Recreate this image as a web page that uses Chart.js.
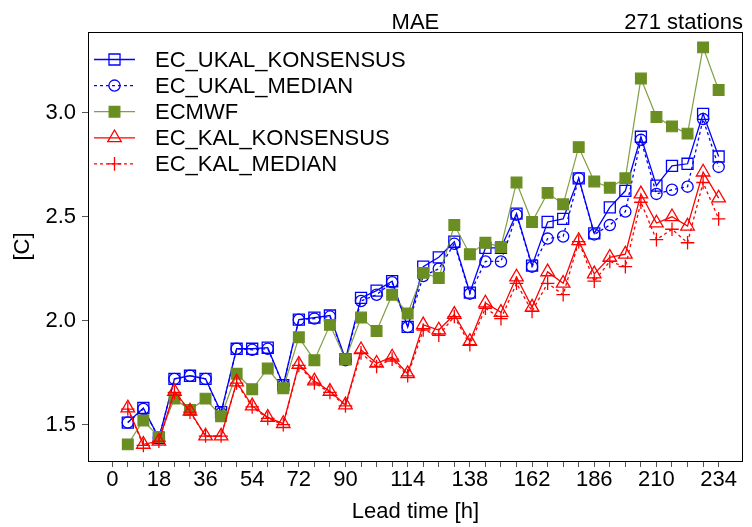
<!DOCTYPE html>
<html><head><meta charset="utf-8">
<script src="https://cdn.jsdelivr.net/npm/chart.js@4.4.1/dist/chart.umd.min.js"></script>
<style>html,body{margin:0;padding:0;background:#fff}#wrap{width:752px;height:527px}</style>
</head><body><div id="wrap"><canvas id="c" width="752" height="527"></canvas></div>
<script>
const leadTimes = [6,12,18,24,30,36,42,48,54,60,66,72,78,84,90,96,102,108,114,120,126,132,138,144,150,156,162,168,174,180,186,192,198,204,210,216,222,228,234];
const xTickValues = [0,6,12,18,24,30,36,42,48,54,60,66,72,78,84,90,96,102,108,114,120,126,132,138,144,150,156,162,168,174,180,186,192,198,204,210,216,222,228,234];
const xTickLabels = [0,18,36,54,72,90,114,138,162,186,210,234];
const yTickValues = [1.5,2.0,2.5,3.0];
const seriesNames = ['EC_UKAL_KONSENSUS','EC_UKAL_MEDIAN','ECMWF','EC_KAL_KONSENSUS','EC_KAL_MEDIAN'];
const ecUkalKonsensus = [1.51,1.58,1.435,1.72,1.735,1.72,1.56,1.865,1.865,1.87,1.69,2.005,2.015,2.025,1.815,2.11,2.145,2.19,1.97,2.26,2.305,2.38,2.135,2.35,2.35,2.515,2.265,2.475,2.49,2.685,2.42,2.545,2.625,2.885,2.65,2.745,2.755,2.995,2.79];
const ecUkalMedian = [1.51,1.575,1.435,1.72,1.735,1.72,1.555,1.865,1.86,1.865,1.69,2.005,2.01,2.02,1.81,2.095,2.125,2.185,1.97,2.215,2.25,2.37,2.13,2.285,2.285,2.51,2.26,2.395,2.405,2.685,2.415,2.46,2.525,2.87,2.61,2.63,2.645,2.97,2.74];
const ecmwf = [1.405,1.52,1.44,1.625,1.57,1.625,1.54,1.745,1.67,1.77,1.675,1.92,1.81,1.98,1.815,2.015,1.95,2.125,2.035,2.23,2.205,2.46,2.32,2.375,2.355,2.665,2.475,2.615,2.56,2.835,2.67,2.64,2.685,3.165,2.98,2.935,2.9,3.315,3.11];
const ecKalKonsensus = [1.58,1.405,1.42,1.66,1.565,1.445,1.445,1.705,1.59,1.535,1.505,1.79,1.71,1.66,1.595,1.86,1.795,1.825,1.745,1.98,1.955,2.03,1.9,2.085,2.04,2.21,2.065,2.235,2.18,2.385,2.225,2.305,2.32,2.61,2.47,2.5,2.455,2.715,2.59];
const ecKalMedian = [1.575,1.40,1.42,1.655,1.56,1.445,1.445,1.70,1.585,1.53,1.50,1.785,1.70,1.655,1.59,1.845,1.78,1.815,1.735,1.955,1.93,2.02,1.885,2.06,2.01,2.18,2.045,2.18,2.125,2.38,2.19,2.285,2.26,2.57,2.39,2.44,2.375,2.665,2.49];
const titleText = 'MAE';
const stationsText = '271 stations';
const xTitle = 'Lead time [h]';
const yTitle = '[C]';

const FONT = "'Liberation Sans', Arial, sans-serif";
const FS = 22;
const BLUE = '#0000FF', RED = '#FF0000', GREEN = '#6B8E23';

function pts(vals){ return leadTimes.map((t,i)=>({x:t,y:vals[i]})); }

const styles = [
  {color:BLUE, dash:[], style:'rect', r:7.8, fill:'rgba(0,0,0,0)', lw:1.3, order:4},
  {color:BLUE, dash:[3,3], style:'circle', r:5.6, fill:'rgba(0,0,0,0)', lw:1.3, order:3},
  {color:GREEN, dash:[], style:'rect', r:7.6, fill:GREEN, lw:1.2, order:2, line:'rgba(107,142,35,0.85)'},
  {color:RED, dash:[], style:'triangle', r:7.8, fill:'rgba(0,0,0,0)', lw:1.3, order:1},
  {color:RED, dash:[3,3], style:'cross', r:6.8, fill:'rgba(0,0,0,0)', lw:1.3, order:0}
];
const allVals = [ecUkalKonsensus, ecUkalMedian, ecmwf, ecKalKonsensus, ecKalMedian];

const datasets = allVals.map((v,i)=>{
  const s = styles[i];
  return {
    label: seriesNames[i], data: pts(v),
    borderColor: s.line || s.color, borderWidth: s.lw, borderDash: s.dash,
    pointStyle: s.style, pointRadius: s.r, pointBorderColor: s.color,
    pointBackgroundColor: s.fill, pointBorderWidth: s.lw, pointHoverRadius: s.r,
    fill:false, tension:0, order: s.order
  };
});

const decor = {
  id:'decor',
  afterDraw(chart){
    const ctx = chart.ctx, a = chart.chartArea;
    ctx.save();
    ctx.strokeStyle = '#000'; ctx.lineWidth = 1; ctx.setLineDash([]);
    ctx.strokeRect(Math.round(a.left)+0.5, Math.round(a.top)+0.5, Math.round(a.right-a.left)-1, Math.round(a.bottom-a.top));
    ctx.fillStyle = '#000';
    ctx.font = FS + 'px ' + FONT;
    ctx.textBaseline = 'alphabetic';
    ctx.textAlign = 'center';
    ctx.fillText(titleText, (a.left+a.right)/2, 28.5);
    ctx.textAlign = 'right';
    ctx.fillText(stationsText, a.right, 28.5);
    ctx.textAlign = 'center';
    ctx.fillText(xTitle, (a.left+a.right)/2, 518);
    ctx.save();
    ctx.translate(29, (a.top+a.bottom)/2);
    ctx.rotate(-Math.PI/2);
    ctx.fillText(yTitle, 0, 0);
    ctx.restore();
    // legend
    const x0 = 94, x1 = 135, xm = 114.5, tx = 155;
    seriesNames.forEach((name,i)=>{
      const s = styles[i];
      const y = 59.5 + i*26.1;
      ctx.save();
      ctx.strokeStyle = s.line || s.color; ctx.lineWidth = s.lw; ctx.setLineDash(s.dash);
      ctx.beginPath(); ctx.moveTo(x0,y); ctx.lineTo(x1,y); ctx.stroke();
      ctx.setLineDash([]);
      ctx.strokeStyle = s.color; ctx.fillStyle = s.fill; ctx.lineWidth = s.lw;
      Chart.helpers.drawPoint(ctx, {pointStyle:s.style, radius:s.r, borderWidth:s.lw, rotation:0}, xm, y);
      ctx.restore();
      ctx.fillStyle = '#000'; ctx.textAlign = 'left'; ctx.textBaseline = 'middle';
      ctx.fillText(name, tx, y+1);
    });
    ctx.restore();
  }
};

new Chart(document.getElementById('c'), {
  type:'line',
  data:{datasets},
  options:{
    responsive:false, animation:false, devicePixelRatio:1, events:[],
    layout:{padding:{left:0,right:5,top:32,bottom:0}},
    plugins:{legend:{display:false}, tooltip:{enabled:false}, title:{display:false}},
    scales:{
      x:{
        type:'linear', min:-9.36, max:243.36,
        afterBuildTicks(scale){ scale.ticks = xTickValues.map(v=>({value:v})); },
        afterFit(scale){ scale.height = 66; },
        ticks:{autoSkip:false, maxRotation:0, minRotation:0, padding:0, color:'#000',
          font:{family:FONT, size:FS},
          callback(v){ return xTickLabels.includes(v) ? String(v) : ''; }},
        grid:{drawOnChartArea:false, drawTicks:true, tickLength:6, color:'#555', lineWidth:1},
        border:{display:false}
      },
      y:{
        type:'linear', min:1.325, max:3.389,
        afterBuildTicks(scale){ scale.ticks = yTickValues.map(v=>({value:v})); },
        afterFit(scale){ scale.width = 88; },
        ticks:{padding:6, color:'#000', font:{family:FONT, size:FS},
          callback(v){ return Number(v).toFixed(1); }},
        grid:{drawOnChartArea:false, drawTicks:true, tickLength:6, color:'#555', lineWidth:1},
        border:{display:false}
      }
    }
  },
  plugins:[decor]
});
</script></body></html>
